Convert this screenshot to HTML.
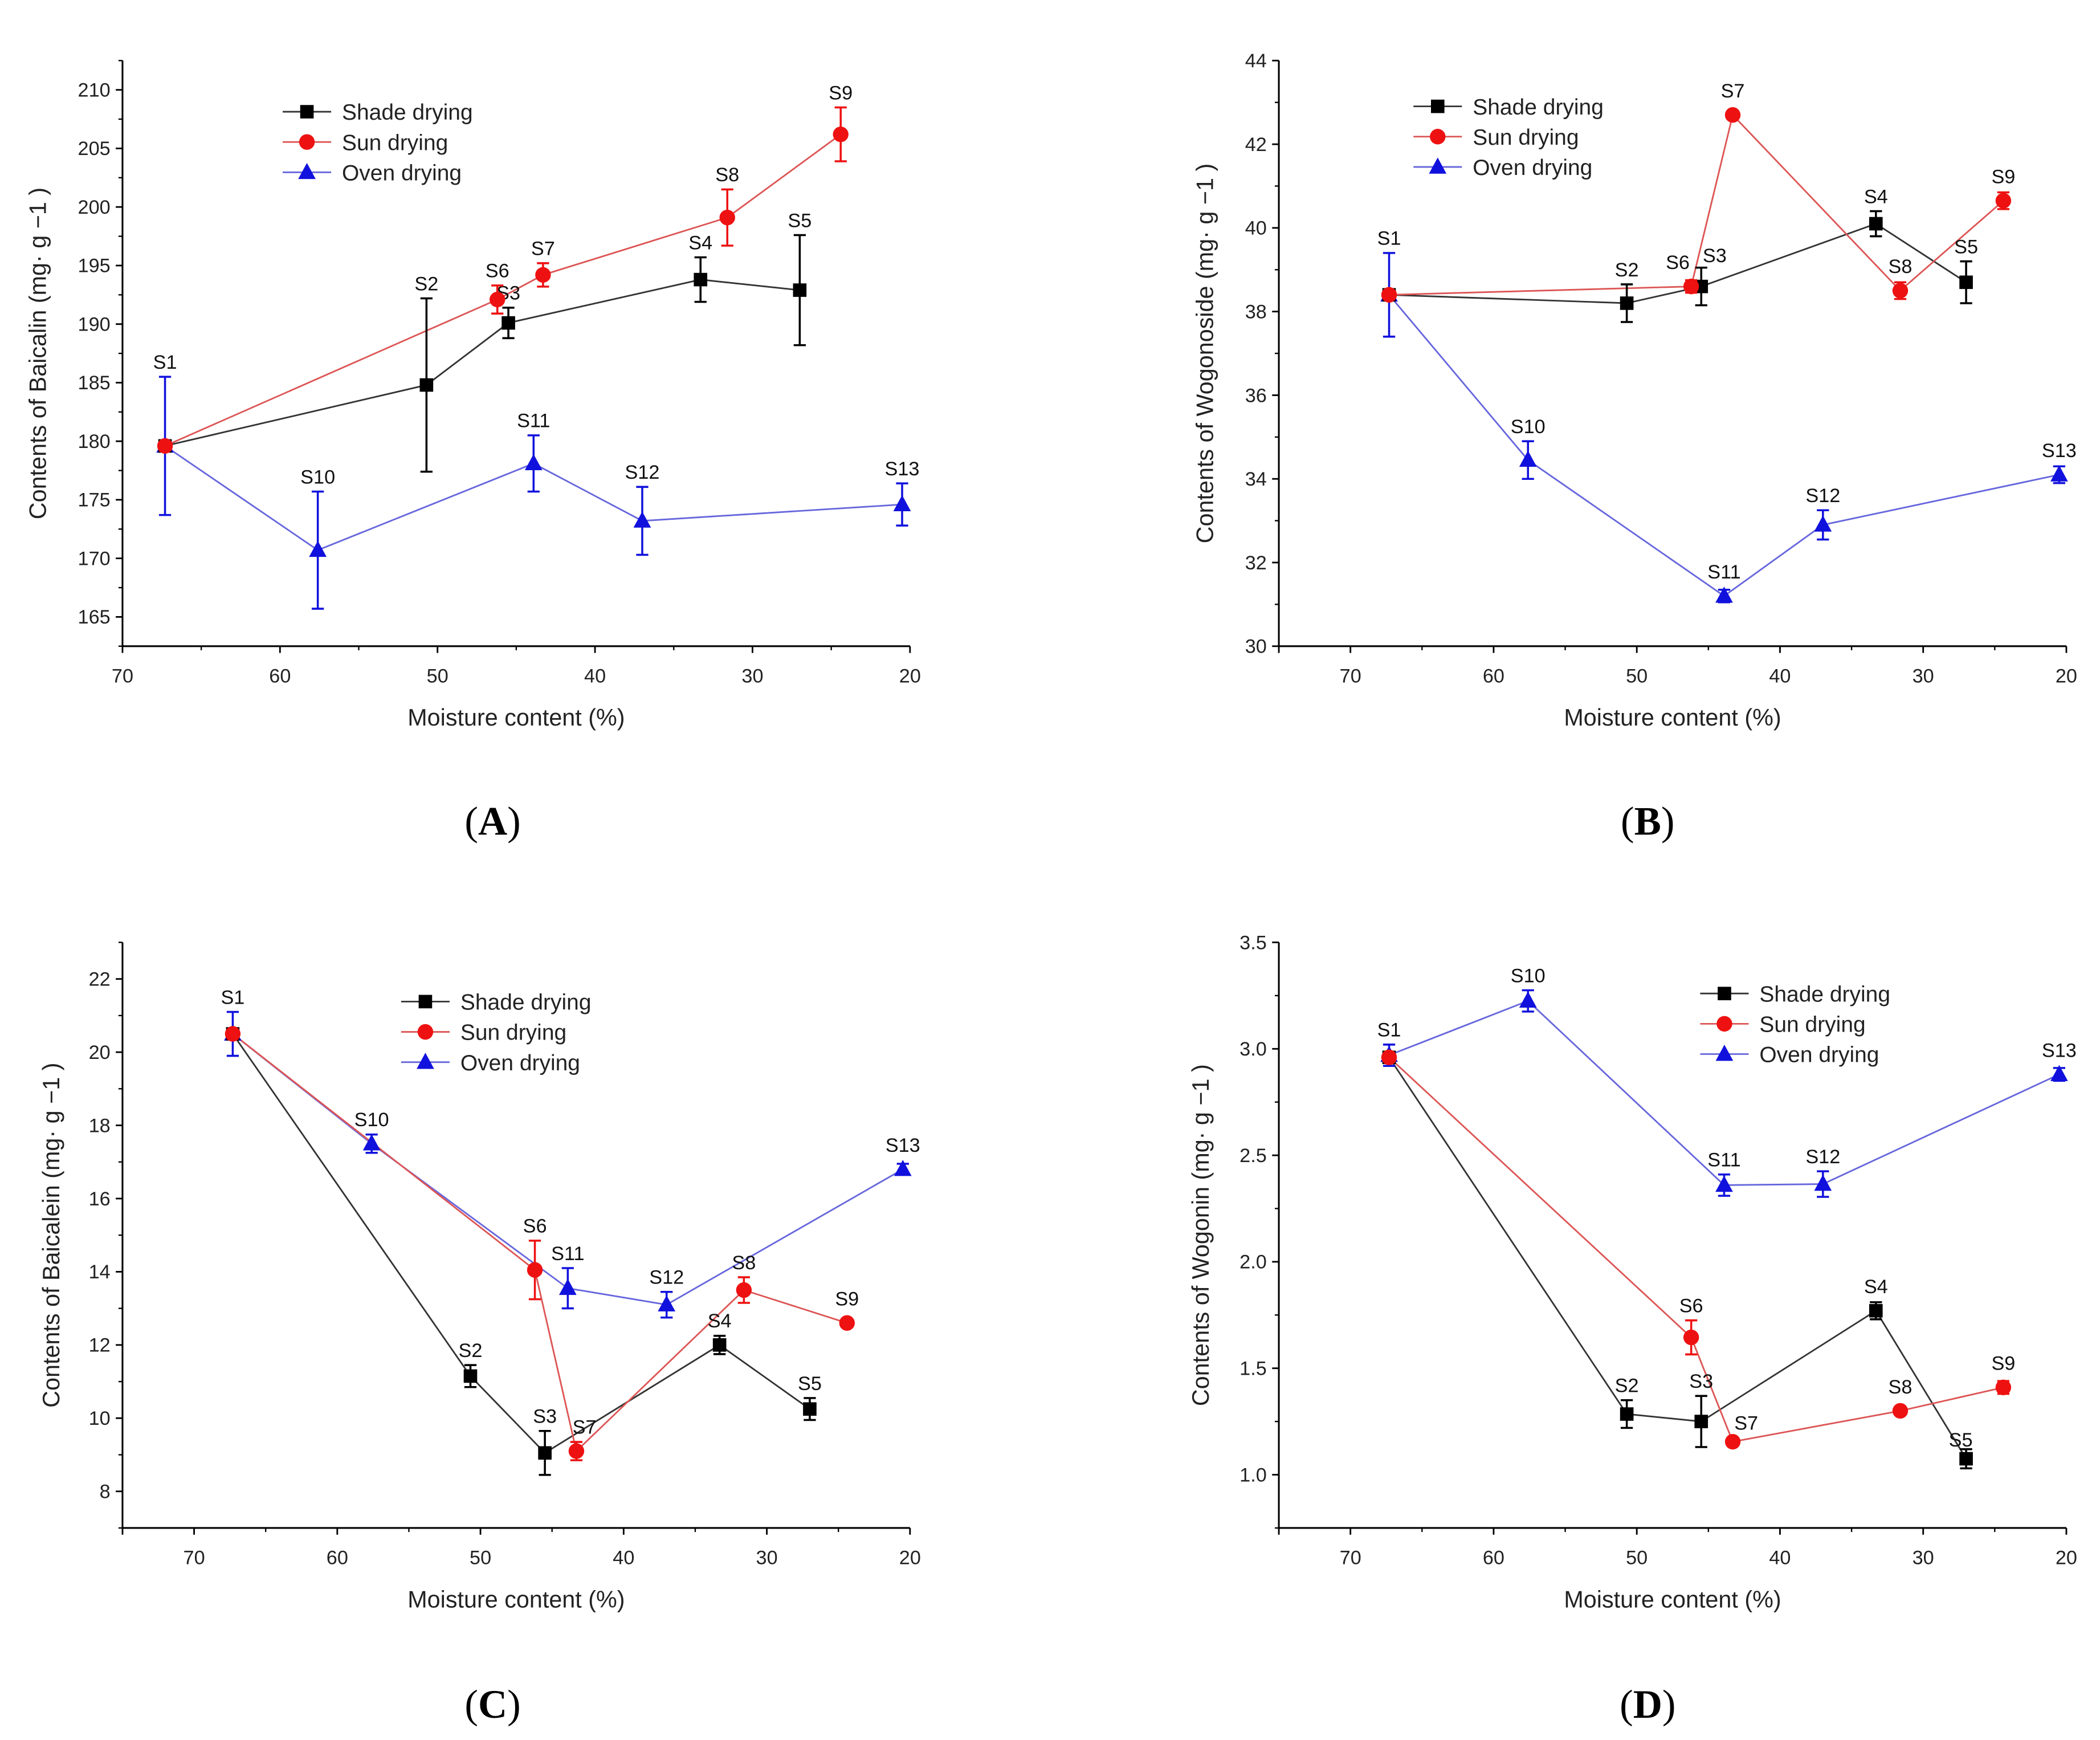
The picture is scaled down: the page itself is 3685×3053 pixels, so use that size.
<!DOCTYPE html>
<html><head><meta charset="utf-8">
<style>
html,body{margin:0;padding:0;background:#fff;}
svg{display:block;}
text{font-family:"Liberation Sans",Arial,sans-serif;}
text.serif{font-family:"Liberation Serif",serif;}
</style></head>
<body>
<svg id="fig" width="3685" height="3053" viewBox="0 0 1560 1292.5" preserveAspectRatio="none" xmlns="http://www.w3.org/2000/svg"></svg>
<script>
// ---- data (moisture %, content, error) ----
const seriesNames = ["Shade drying","Sun drying","Oven drying"];
const shadeLabels = ["S1","S2","S3","S4","S5"];
const sunLabels = ["S1","S6","S7","S8","S9"];
const ovenLabels = ["S1","S10","S11","S12","S13"];
const shadeX = [67.3,50.7,45.5,33.3,27.0];
const sunX = [67.3,46.2,43.3,31.6,24.4];
const ovenX = [67.3,57.6,43.9,37.0,20.5];

const aShade = [179.6,184.8,190.1,193.8,192.9];
const aShadeErr = [0,7.4,1.3,1.9,4.7];
const aSun = [179.6,192.1,194.2,199.1,206.2];
const aSunErr = [0,1.2,1.0,2.4,2.3];
const aOven = [179.6,170.7,178.1,173.2,174.6];
const aOvenErr = [5.9,5.0,2.4,2.9,1.8];

const bShade = [38.4,38.2,38.6,40.1,38.7];
const bShadeErr = [0,0.45,0.45,0.3,0.5];
const bSun = [38.4,38.6,42.7,38.5,40.65];
const bSunErr = [0,0.15,0,0.2,0.2];
const bOven = [38.4,34.45,31.2,32.9,34.1];
const bOvenErr = [1.0,0.45,0.15,0.35,0.2];

const cShade = [20.5,11.15,9.05,12.0,10.25];
const cShadeErr = [0,0.3,0.6,0.25,0.3];
const cSun = [20.5,14.05,9.1,13.5,12.6];
const cSunErr = [0,0.8,0.25,0.35,0];
const cOven = [20.5,17.5,13.55,13.1,16.8];
const cOvenErr = [0.6,0.25,0.55,0.35,0.15];

const dShade = [2.96,1.285,1.25,1.77,1.075];
const dShadeErr = [0,0.065,0.12,0.04,0.045];
const dSun = [2.96,1.645,1.155,1.30,1.41];
const dSunErr = [0,0.08,0,0,0.03];
const dOven = [2.97,3.225,2.36,2.365,2.88];
const dOvenErr = [0.05,0.05,0.05,0.06,0.03];

const aTicks = [165,170,175,180,185,190,195,200,205,210];
const bTicks = [30,32,34,36,38,40,42,44];
const cTicks = [8,10,12,14,16,18,20,22];
const dTicks = ["1.0","1.5","2.0","2.5","3.0","3.5"];
const xTicks = [70,60,50,40,30,20];

const NS="http://www.w3.org/2000/svg";
const svg=document.getElementById('fig');
function el(tag,attrs,parent,txt){const e=document.createElementNS(NS,tag);for(const k in attrs)e.setAttribute(k,attrs[k]);if(txt!==undefined)e.textContent=txt;(parent||svg).appendChild(e);return e;}

const panels=[
 {id:"a",L:91,R:676,T:45,B:480,xmin:70,xmax:20,ymin:162.5,ymax:212.5,yt:aTicks,ytStep:5,ytFmt:v=>String(v),
  data:[[aShade,aShadeErr],[aSun,aSunErr],[aOven,aOvenErr]],title:"Contents of Baicalin (mg· g −1 )",tx:28,
  leg:[210,83],letter:"(A)",lx:366,ly:620,xt:533,
  off:{"1S3":[10,8]}},
 {id:"b",L:950,R:1535,T:45,B:480,xmin:75,xmax:20,ymin:30,ymax:44,yt:bTicks,ytStep:2,ytFmt:v=>String(v),
  data:[[bShade,bShadeErr],[bSun,bSunErr],[bOven,bOvenErr]],title:"Contents of Wogonoside (mg· g −1 )",tx:895,
  leg:[1050,79],letter:"(B)",lx:1224,ly:620,xt:533,
  off:{"1S6":[-10,0],"0S3":[10,2]}},
 {id:"c",L:91,R:676,T:700,B:1135,xmin:75,xmax:20,ymin:7,ymax:23,yt:cTicks,ytStep:2,ytFmt:v=>String(v),
  data:[[cShade,cShadeErr],[cSun,cSunErr],[cOven,cOvenErr]],title:"Contents of Baicalein (mg· g −1 )",tx:38,
  leg:[298,744],letter:"(C)",lx:366,ly:1276,xt:1188,
  off:{"2S11":[0,0],"1S7":[6,0]}},
 {id:"d",L:950,R:1535,T:700,B:1135,xmin:75,xmax:20,ymin:0.75,ymax:3.5,yt:dTicks.map(Number),ytStep:0.5,ytFmt:v=>v.toFixed(1),
  data:[[dShade,dShadeErr],[dSun,dSunErr],[dOven,dOvenErr]],title:"Contents of Wogonin (mg· g −1 )",tx:892,
  leg:[1263,738],letter:"(D)",lx:1224,ly:1276,xt:1188,
  off:{"1S7":[10,4],"0S5":[-4,4]}}
];
const colors=["#000000","#ee1111","#1111dd"];
const lineColors=["#333333","#dd5555","#6666dd"];
const xsArr=[shadeX,sunX,ovenX];
const labArr=[shadeLabels,sunLabels,ovenLabels];

function marker(g,k,x,y){
  if(k===0)el('rect',{x:x-5,y:y-5,width:10,height:10,fill:colors[0]},g);
  else if(k===1)el('circle',{cx:x,cy:y,r:5.8,fill:colors[1]},g);
  else el('polygon',{points:`${x},${y-7} ${x-6.5},${y+5} ${x+6.5},${y+5}`,fill:colors[2]},g);
}

panels.forEach(p=>{
  const g=el('g',{});  
  const sx=v=>p.L+(p.xmin-v)/(p.xmin-p.xmax)*(p.R-p.L);
  const sy=v=>p.B-(v-p.ymin)/(p.ymax-p.ymin)*(p.B-p.T);
  const ya=el('line',{x1:p.L,y1:p.T,x2:p.L,y2:p.B,stroke:"#000","stroke-width":1.3},g);
   
  const xa=el('line',{x1:p.L,y1:p.B,x2:p.R,y2:p.B,stroke:"#000","stroke-width":1.3},g);
   
  p.yt.forEach(v=>{
    const y=sy(v);
    el('line',{x1:p.L-5,y1:y,x2:p.L,y2:y,stroke:"#000","stroke-width":1.2},g);
    const t=el('text',{x:p.L-9,y:y+5,"text-anchor":"end","font-size":14.5,fill:"#222"},g,p.ytFmt(v));
     
    const ym=sy(v+p.ytStep/2);
    if(ym>=p.T) el('line',{x1:p.L-3,y1:ym,x2:p.L,y2:ym,stroke:"#000","stroke-width":1},g);
    const yb=sy(v-p.ytStep/2);
    if(v===p.yt[0]&&yb<=p.B) el('line',{x1:p.L-3,y1:yb,x2:p.L,y2:yb,stroke:"#000","stroke-width":1},g);
  });
  xTicks.forEach(v=>{
    const x=sx(v);
    el('line',{x1:x,y1:p.B,x2:x,y2:p.B+5,stroke:"#000","stroke-width":1.2},g);
    const t=el('text',{x:x,y:p.B+27,"text-anchor":"middle","font-size":14.5,fill:"#222"},g,String(v));
     
  });
  for(let v=75;v>=20;v-=10){ if(v<=p.xmin&&v>=p.xmax) el('line',{x1:sx(v),y1:p.B,x2:sx(v),y2:p.B+3,stroke:"#000","stroke-width":1},g); }
  if(p.xmin===75) el('line',{x1:p.L,y1:p.B,x2:p.L,y2:p.B+5,stroke:"#000","stroke-width":1.2},g);
  const yt=el('text',{x:0,y:0,transform:`translate(${p.tx+6},${(p.T+p.B)/2}) rotate(-90)`,"text-anchor":"middle","font-size":17.5,fill:"#222"},g,p.title);
   
  const xt=el('text',{x:(p.L+p.R)/2,y:p.xt+6,"text-anchor":"middle","font-size":17.5,fill:"#222"},g,"Moisture content (%)");
   
  const lt=el('text',{x:p.lx,y:p.ly,"text-anchor":"middle","font-size":30,"class":"serif",fill:"#000"},g);
  el('tspan',{},lt,"(");el('tspan',{"font-weight":"bold"},lt,p.letter[1]);el('tspan',{},lt,")");
   
  [2,0,1].forEach(k=>{
    const vals=p.data[k][0], xs=xsArr[k];
    const sg=el('g',{},g);  
    const pts=vals.map((v,i)=>`${sx(xs[i])},${sy(v)}`).join(' ');
    const pl=el('polyline',{points:pts,fill:"none",stroke:lineColors[k],"stroke-width":1.2},sg);
     
  });
  [2,0,1].forEach(k=>{
    const vals=p.data[k][0], errs=p.data[k][1], xs=xsArr[k], labs=labArr[k];
    vals.forEach((v,i)=>{
      const x=sx(xs[i]), y=sy(v), e=errs[i];
      const pg=el('g',{},g);  
      if(e>0){
        const y1=sy(v+e), y2=sy(v-e);
        el('line',{x1:x,y1:y1,x2:x,y2:y2,stroke:colors[k],"stroke-width":1.5},pg);
        el('line',{x1:x-4.5,y1:y1,x2:x+4.5,y2:y1,stroke:colors[k],"stroke-width":1.5},pg);
        el('line',{x1:x-4.5,y1:y2,x2:x+4.5,y2:y2,stroke:colors[k],"stroke-width":1.5},pg);
      }
      marker(pg,k,x,y);
      if(i===0&&k!==2)return;
      const o=p.off[k+labs[i]]||[0,0];
      const top=Math.min(y-7,sy(v+e));
      const t=el('text',{x:x+o[0],y:top-6+o[1],"text-anchor":"middle","font-size":14.5,fill:"#111"},pg,labs[i]);
       
    });
  });
  const lg=el('g',{},g);  
  seriesNames.forEach((n,k)=>{
    const y=p.leg[1]+k*22.5, x=p.leg[0];
    const eg=el('g',{},lg);  
    el('line',{x1:x,y1:y,x2:x+36,y2:y,stroke:lineColors[k],"stroke-width":1.2},eg);
    marker(eg,k,x+18,y);
    el('text',{x:x+44,y:y+6,"font-size":16.5,fill:"#222"},eg,n);
  });
});
</script>
</body></html>
